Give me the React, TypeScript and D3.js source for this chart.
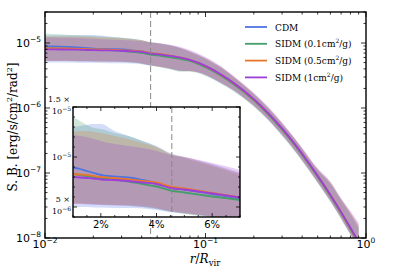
import React from 'react'
import * as d3 from 'd3'

// radius in units of R_vir
const R = [0.01, 0.0125, 0.015, 0.0175, 0.02, 0.025, 0.03, 0.035, 0.04, 0.045, 0.05, 0.06, 0.07, 0.08, 0.1, 0.125, 0.15, 0.2, 0.25, 0.3, 0.35, 0.4, 0.5, 0.6, 0.7, 0.8, 0.9]

// surface brightness, in units of 1e-6 erg/s/cm^2/rad^2
const CDM = [8.95, 8.8, 8.6, 8.4, 8.2, 8.05, 7.95, 7.7, 7.4, 6.95, 6.75, 6.3, 5.85, 5.44, 4.35, 3.22, 2.38, 1.34, 0.784, 0.475, 0.299, 0.194, 0.0889, 0.0452, 0.0245, 0.014, 0.0085]
const SIDM01 = [8.3, 8.2, 8.1, 8.0, 7.9, 7.75, 7.55, 7.3, 7.05, 6.65, 6.45, 6.05, 5.7, 5.3, 4.24, 3.14, 2.32, 1.31, 0.765, 0.463, 0.292, 0.189, 0.0867, 0.0441, 0.0239, 0.0137, 0.0083]
const SIDM05 = [8.3, 8.25, 8.2, 8.1, 8.0, 7.9, 7.75, 7.6, 7.45, 7.05, 6.85, 6.4, 5.95, 5.5, 4.39, 3.25, 2.4, 1.35, 0.792, 0.48, 0.302, 0.196, 0.0898, 0.0457, 0.0247, 0.0141, 0.0086]
const SIDM1 = [8.0, 7.95, 7.9, 7.85, 7.75, 7.7, 7.6, 7.45, 7.3, 6.9, 6.75, 6.35, 5.95, 5.5, 4.44, 3.28, 2.43, 1.37, 0.8, 0.485, 0.305, 0.198, 0.0907, 0.0461, 0.025, 0.0143, 0.0087]

// scatter bands (same units)
const CDM_LO = [5.0, 5.0, 5.0, 4.95, 4.95, 4.9, 4.9, 4.85, 4.7, 4.5, 4.35, 4.0, 3.7, 3.7, 3.2, 2.4, 1.85, 1.07, 0.63, 0.38, 0.24, 0.155, 0.071, 0.037, 0.02, 0.0113, 0.0068]
const CDM_HI = [13.0, 13.1, 13.2, 13.3, 13.3, 12.6, 12.1, 11.6, 11.1, 10.4, 10.0, 9.3, 8.4, 7.4, 5.8, 4.2, 3.0, 1.65, 0.96, 0.58, 0.365, 0.237, 0.113, 0.068, 0.038, 0.023, 0.014]
const SIDM01_LO = [5.4, 5.4, 5.35, 5.3, 5.25, 5.2, 5.15, 5.0, 4.8, 4.5, 4.3, 3.95, 3.6, 3.6, 3.1, 2.35, 1.8, 1.05, 0.62, 0.37, 0.235, 0.152, 0.07, 0.036, 0.0195, 0.011, 0.0066]
const SIDM01_HI = [14.0, 13.6, 13.2, 12.9, 12.8, 12.4, 12.1, 11.6, 11.0, 10.3, 9.9, 9.1, 8.2, 7.3, 5.7, 4.15, 2.95, 1.62, 0.94, 0.57, 0.36, 0.232, 0.11, 0.07, 0.039, 0.024, 0.015]
const SIDM05_LO = [5.3, 5.3, 5.3, 5.3, 5.25, 5.2, 5.2, 5.1, 4.9, 4.6, 4.4, 4.05, 3.75, 3.7, 3.25, 2.45, 1.87, 1.08, 0.64, 0.385, 0.243, 0.157, 0.072, 0.037, 0.02, 0.0115, 0.007]
const SIDM05_HI = [12.5, 12.6, 12.6, 12.5, 12.4, 12.1, 11.8, 11.4, 11.0, 10.3, 10.0, 9.2, 8.4, 7.5, 5.9, 4.3, 3.05, 1.68, 0.98, 0.59, 0.37, 0.24, 0.115, 0.072, 0.04, 0.025, 0.016]
const SIDM1_LO = [5.3, 5.3, 5.25, 5.2, 5.2, 5.15, 5.1, 5.0, 4.85, 4.55, 4.4, 4.05, 3.75, 3.7, 3.25, 2.45, 1.88, 1.09, 0.645, 0.39, 0.245, 0.158, 0.073, 0.0375, 0.0205, 0.0117, 0.0071]
const SIDM1_HI = [12.2, 12.1, 12.0, 11.8, 11.6, 11.3, 11.1, 10.9, 10.6, 10.2, 10.0, 9.4, 8.7, 7.8, 6.1, 4.4, 3.1, 1.7, 1.0, 0.6, 0.375, 0.245, 0.118, 0.074, 0.041, 0.026, 0.017]

const UNIT = 1e-6
const R_MARK = 0.0455 // dashed line

const SERIES = [
  { label: 'CDM', color: '#4f73e3', mid: CDM, lo: CDM_LO, hi: CDM_HI },
  { label: 'SIDM (0.1cm', color: '#449d6a', mid: SIDM01, lo: SIDM01_LO, hi: SIDM01_HI },
  { label: 'SIDM (0.5cm', color: '#e8762d', mid: SIDM05, lo: SIDM05_LO, hi: SIDM05_HI },
  { label: 'SIDM (1cm', color: '#9b3fd8', mid: SIDM1, lo: SIDM1_LO, hi: SIDM1_HI },
]

const INSET_X_LABELS = [2, 4, 6]
const INSET_Y_LABELS = [
  { v: 1.5e-5, top: '1.5 ×', exp: '−5' },
  { v: 1e-5, top: '', exp: '−5' },
  { v: 5e-6, top: '5 ×', exp: '−6' },
]

const W = 407
const H = 271
const M = { left: 45, right: 366, top: 12, bottom: 238 }
const IN = { left: 73, right: 240, top: 107, bottom: 217 }

const SANS = 'DejaVu Sans'
const SERIF = 'DejaVu Serif'

export default function App() {
  const x = d3.scaleLog().domain([0.01, 1]).range([M.left, M.right])
  const y = d3.scaleLog().domain([1e-8, 3e-5]).range([M.bottom, M.top])

  const xi = d3.scaleLinear().domain([1, 7]).range([IN.left, IN.right])
  const yi = d3.scaleLinear().domain([4e-6, 1.5e-5]).range([IN.bottom, IN.top])

  const isDecade = (v: number) => Math.abs(Math.log10(v) - Math.round(Math.log10(v))) < 1e-6
  const curve = d3.curveMonotoneX

  const mainLine = (arr: number[]) =>
    d3.line<number>().curve(curve).x((_, i) => x(R[i])).y(d => y(d * UNIT))(arr) || ''
  const mainArea = (lo: number[], hi: number[]) =>
    d3.area<number>().curve(curve).x((_, i) => x(R[i])).y0((_, i) => y(lo[i] * UNIT)).y1(d => y(d * UNIT))(hi) || ''
  const inLine = (arr: number[]) =>
    d3.line<number>().curve(curve).x((_, i) => xi(R[i] * 100)).y(d => yi(d * UNIT))(arr) || ''
  const inArea = (lo: number[], hi: number[]) =>
    d3.area<number>().curve(curve).x((_, i) => xi(R[i] * 100)).y0((_, i) => yi(lo[i] * UNIT)).y1(d => yi(d * UNIT))(hi) || ''

  const xTicks = x.ticks()
  const yTicks = y.ticks()

  return (
    <svg width={W} height={H} style={{ position: 'absolute', left: 0, top: 0, background: '#fff' }}>
      <defs>
        <clipPath id="clip-main">
          <rect x={M.left} y={M.top} width={M.right - M.left} height={M.bottom - M.top} />
        </clipPath>
        <clipPath id="clip-inset">
          <rect x={IN.left} y={IN.top} width={IN.right - IN.left} height={IN.bottom - IN.top} />
        </clipPath>
      </defs>

      {/* main plot */}
      <g clipPath="url(#clip-main)">
        {SERIES.map(s => (
          <path key={'a' + s.label} d={mainArea(s.lo, s.hi)} fill={s.color} fillOpacity={0.25} stroke="none" />
        ))}
        {SERIES.map(s => (
          <path key={'l' + s.label} d={mainLine(s.mid)} fill="none" stroke={s.color} strokeWidth={1.8} />
        ))}
        <line x1={x(R_MARK)} x2={x(R_MARK)} y1={M.top} y2={M.bottom} stroke="#888" strokeWidth={1} strokeDasharray="6,3" />
      </g>

      {/* main ticks */}
      {xTicks.map((t, i) => {
        const len = isDecade(t) ? 5 : 2.5
        return (
          <g key={'xt' + i}>
            <line x1={x(t)} x2={x(t)} y1={M.bottom} y2={M.bottom - len} stroke="#000" strokeWidth={0.8} />
            <line x1={x(t)} x2={x(t)} y1={M.top} y2={M.top + len} stroke="#000" strokeWidth={0.8} />
          </g>
        )
      })}
      {yTicks.map((t, i) => {
        const len = isDecade(t) ? 5 : 2.5
        return (
          <g key={'yt' + i}>
            <line x1={M.left} x2={M.left + len} y1={y(t)} y2={y(t)} stroke="#000" strokeWidth={0.8} />
            <line x1={M.right} x2={M.right - len} y1={y(t)} y2={y(t)} stroke="#000" strokeWidth={0.8} />
          </g>
        )
      })}
      {xTicks.filter(isDecade).map((t, i) => (
        <text key={'xl' + i} x={x(t)} y={248} textAnchor="middle" fontFamily={SANS} fontSize={11}>
          10<tspan fontSize={7.5} dy={-5}>{Math.round(Math.log10(t)) < 0 ? '−' + Math.abs(Math.round(Math.log10(t))) : Math.round(Math.log10(t))}</tspan>
        </text>
      ))}
      {yTicks.filter(isDecade).map((t, i) => (
        <text key={'yl' + i} x={41} y={y(t) + 4} textAnchor="end" fontFamily={SANS} fontSize={11}>
          10<tspan fontSize={7.5} dy={-5}>{'−' + Math.abs(Math.round(Math.log10(t)))}</tspan>
        </text>
      ))}
      <rect x={M.left} y={M.top} width={M.right - M.left} height={M.bottom - M.top} fill="none" stroke="#000" strokeWidth={1.4} />

      {/* legend */}
      {SERIES.map((s, i) => (
        <g key={'lg' + i} transform={`translate(245,${27 + i * 16.8})`}>
          <line x1={0} x2={22} y1={0} y2={0} stroke={s.color} strokeWidth={1.8} />
          <text x={30} y={3.5} fontFamily={SERIF} fontSize={9}>
            {s.label}
            {i > 0 && (
              <>
                <tspan fontSize={6} dy={-4}>2</tspan>
                <tspan dy={4}>/g)</tspan>
              </>
            )}
          </text>
        </g>
      ))}

      {/* axis labels */}
      <text transform={`translate(17,${127}) rotate(-90)`} textAnchor="middle" fontFamily={SERIF} fontSize={12}>
        S. B. [erg/s/cm<tspan fontSize={8} dy={-5}>2</tspan><tspan dy={5}>/rad</tspan><tspan fontSize={8} dy={-5}>2</tspan><tspan dy={5}>]</tspan>
      </text>
      <text x={205} y={263} textAnchor="middle" fontFamily={SERIF} fontSize={12}>
        <tspan fontStyle="italic">r</tspan>/<tspan fontStyle="italic">R</tspan><tspan fontSize={8.5} dy={2.5}>vir</tspan>
      </text>

      {/* inset */}
      <rect x={IN.left} y={IN.top} width={IN.right - IN.left} height={IN.bottom - IN.top} fill="#fff" />
      <g clipPath="url(#clip-inset)">
        {SERIES.map(s => (
          <path key={'ia' + s.label} d={inArea(s.lo, s.hi)} fill={s.color} fillOpacity={0.25} stroke="none" />
        ))}
        {SERIES.map(s => (
          <path key={'il' + s.label} d={inLine(s.mid)} fill="none" stroke={s.color} strokeWidth={1.8} />
        ))}
        <line x1={xi(R_MARK * 100)} x2={xi(R_MARK * 100)} y1={IN.top} y2={IN.bottom} stroke="#888" strokeWidth={1} strokeDasharray="6,3" />
      </g>
      {d3.range(1, 7.01, 0.5).map((t, i) => {
        const len = INSET_X_LABELS.includes(t) ? 4 : 2
        return (
          <g key={'ixt' + i}>
            <line x1={xi(t)} x2={xi(t)} y1={IN.bottom} y2={IN.bottom - len} stroke="#000" strokeWidth={0.8} />
            <line x1={xi(t)} x2={xi(t)} y1={IN.top} y2={IN.top + len} stroke="#000" strokeWidth={0.8} />
          </g>
        )
      })}
      {d3.range(4e-6, 1.5e-5 + 1e-9, 1e-6).map((t, i) => {
        const major = INSET_Y_LABELS.some(l => Math.abs(l.v - t) < 1e-9)
        const len = major ? 4 : 2
        return (
          <g key={'iyt' + i}>
            <line x1={IN.left} x2={IN.left + len} y1={yi(t)} y2={yi(t)} stroke="#000" strokeWidth={0.8} />
            <line x1={IN.right} x2={IN.right - len} y1={yi(t)} y2={yi(t)} stroke="#000" strokeWidth={0.8} />
          </g>
        )
      })}
      {INSET_X_LABELS.map(t => (
        <text key={'ixl' + t} x={xi(t)} y={228} textAnchor="middle" fontFamily={SANS} fontSize={10}>
          {t}%
        </text>
      ))}
      {INSET_Y_LABELS.map((l, i) => (
        <g key={'iyl' + i}>
          {l.top && (
            <text x={70} y={yi(l.v) - 5} textAnchor="end" fontFamily={SERIF} fontSize={8}>{l.top}</text>
          )}
          <text x={71} y={yi(l.v) + (l.top ? 7 : 3)} textAnchor="end" fontFamily={SERIF} fontSize={8}>
            10<tspan fontSize={6} dy={-3.5}>{l.exp}</tspan>
          </text>
        </g>
      ))}
      <rect x={IN.left} y={IN.top} width={IN.right - IN.left} height={IN.bottom - IN.top} fill="none" stroke="#000" strokeWidth={1.4} />
    </svg>
  )
}
